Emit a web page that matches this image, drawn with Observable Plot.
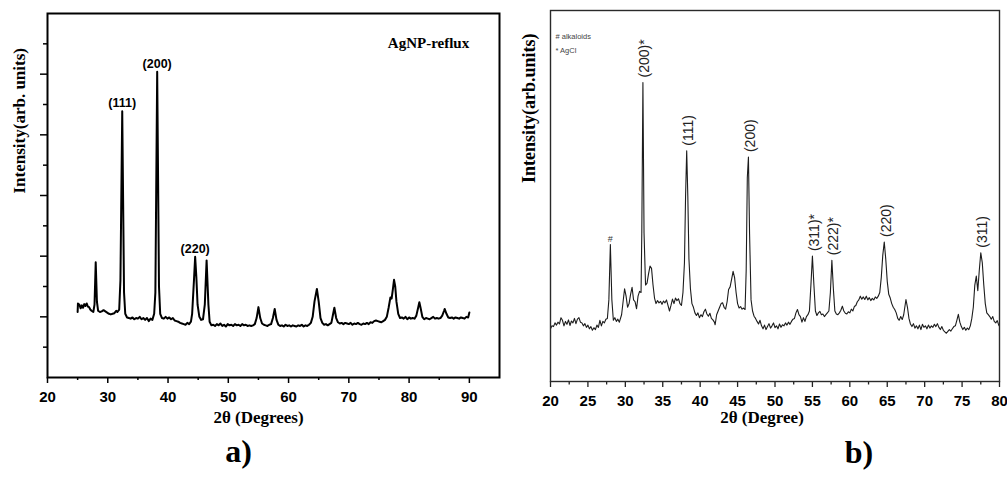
<!DOCTYPE html>
<html>
<head>
<meta charset="utf-8">
<script src="https://cdn.jsdelivr.net/npm/d3@7"></script>
<script src="https://cdn.jsdelivr.net/npm/@observablehq/plot@0.6"></script>
<style>
  html, body { margin: 0; padding: 0; background: #fff; }
  #fig { display: flex; width: 1007px; height: 477px; overflow: hidden; }
  #fig svg { display: block; flex: none; }
</style>
</head>
<body>
<div id="fig"></div>
<script>
// ---- a) AgNP-reflux diffractogram: [2θ, intensity] ----
const aScan = [
  [25.0,1.08],[25.05,1.22],[25.3,1.20],[25.5,1.14],[25.7,1.19],[25.9,1.15],[26.1,1.21],[26.3,1.18],
  [26.5,1.22],[26.7,1.17],[26.9,1.16],[27.1,1.12],[27.3,1.10],[27.6,1.08],[27.8,1.20],[28.0,1.90],
  [28.2,1.25],[28.4,1.10],[28.7,1.08],[29.0,1.09],[29.3,1.11],[29.6,1.09],[29.9,1.07],[30.2,1.05],
  [30.5,1.04],[30.8,1.05],[31.1,1.06],[31.4,1.10],[31.6,1.08],[31.9,1.12],[32.1,1.60],[32.4,4.39],
  [32.7,1.40],[32.9,1.05],[33.2,0.99],[33.5,0.98],[33.8,0.97],[34.1,0.99],[34.4,0.96],[34.7,0.98],
  [35.0,0.97],[35.3,1.00],[35.6,0.96],[35.9,0.98],[36.2,0.95],[36.5,0.98],[36.8,0.93],[37.1,0.97],
  [37.4,0.95],[37.7,1.05],[37.9,1.40],[38.2,5.04],[38.5,1.50],[38.7,1.05],[39.0,0.98],[39.3,0.97],
  [39.6,1.00],[39.9,0.97],[40.2,0.99],[40.5,0.96],[40.8,0.98],[41.1,0.94],[41.4,0.93],[41.7,0.92],
  [42.0,0.90],[42.3,0.89],[42.6,0.88],[42.9,0.87],[43.2,0.90],[43.5,0.88],[43.8,0.92],[44.0,1.05],
  [44.3,1.60],[44.5,1.99],[44.7,1.65],[44.9,1.20],[45.2,1.00],[45.5,0.95],[45.8,0.96],[46.1,1.20],
  [46.4,1.93],[46.7,1.20],[46.9,0.92],[47.2,0.86],[47.5,0.87],[47.8,0.85],[48.1,0.88],[48.4,0.86],
  [48.7,0.89],[49.0,0.85],[49.3,0.87],[49.6,0.84],[49.9,0.88],[50.2,0.86],[50.5,0.87],[50.8,0.85],
  [51.1,0.88],[51.4,0.86],[51.7,0.87],[52.0,0.85],[52.3,0.88],[52.6,0.86],[52.9,0.87],[53.2,0.85],
  [53.5,0.86],[53.8,0.85],[54.1,0.86],[54.4,0.88],[54.7,0.98],[55.0,1.16],[55.3,0.98],[55.6,0.89],
  [55.9,0.87],[56.2,0.86],[56.5,0.85],[56.8,0.87],[57.1,0.88],[57.4,0.98],[57.7,1.13],[58.0,0.95],
  [58.3,0.87],[58.6,0.85],[58.9,0.86],[59.2,0.84],[59.5,0.87],[59.8,0.85],[60.1,0.86],[60.4,0.84],
  [60.7,0.86],[61.0,0.85],[61.3,0.84],[61.6,0.86],[61.9,0.85],[62.2,0.87],[62.5,0.84],[62.8,0.86],
  [63.1,0.85],[63.4,0.87],[63.7,0.90],[64.0,1.00],[64.3,1.25],[64.7,1.46],[65.0,1.25],[65.3,0.98],
  [65.6,0.90],[65.9,0.87],[66.2,0.88],[66.5,0.86],[66.8,0.88],[67.1,0.90],[67.4,1.05],[67.6,1.15],
  [67.9,0.98],[68.2,0.91],[68.5,0.89],[68.8,0.90],[69.1,0.88],[69.4,0.90],[69.7,0.89],[70.0,0.88],
  [70.3,0.90],[70.6,0.87],[70.9,0.89],[71.2,0.88],[71.5,0.90],[71.8,0.88],[72.1,0.87],[72.4,0.89],
  [72.7,0.88],[73.0,0.90],[73.3,0.88],[73.6,0.91],[73.9,0.90],[74.2,0.93],[74.5,0.94],[74.8,0.93],
  [75.1,0.92],[75.4,0.91],[75.7,0.93],[76.0,0.95],[76.3,1.00],[76.6,1.15],[76.9,1.32],[77.1,1.30],
  [77.3,1.45],[77.5,1.61],[77.7,1.50],[77.9,1.25],[78.2,1.05],[78.5,0.98],[78.8,0.99],[79.1,0.97],
  [79.4,1.00],[79.7,0.96],[80.0,0.99],[80.3,0.97],[80.6,0.98],[80.9,0.97],[81.2,1.02],[81.5,1.15],
  [81.7,1.24],[81.9,1.15],[82.2,1.00],[82.5,0.96],[82.8,0.98],[83.1,0.97],[83.4,0.96],[83.7,0.98],
  [84.0,1.00],[84.3,0.97],[84.6,0.98],[84.9,0.97],[85.2,0.98],[85.5,1.02],[85.8,1.10],[85.9,1.13],
  [86.2,1.05],[86.5,0.99],[86.8,0.98],[87.1,0.99],[87.4,0.97],[87.7,0.99],[88.0,0.98],[88.3,0.97],
  [88.6,0.99],[88.9,0.98],[89.2,0.97],[89.5,1.00],[89.8,0.99],[90.0,1.07]
];
const aPeakTheta = [32.4, 38.2, 44.5];
const aPeakLabel = ["(111)", "(200)", "(220)"];
const aMajorTicks = [20, 30, 40, 50, 60, 70, 80, 90];
const aMinorTicks = [25, 35, 45, 55, 65, 75, 85];
const aYMajor = [1, 2, 3, 4, 5];
const aYMinor = [0.5, 1.5, 2.5, 3.5, 4.5, 5.5];

// ---- b) diffractogram with alkaloid and AgCl reflections: [2θ, intensity] ----
const bScan = [
  [20.0,14.2],[20.2,15.0],[20.4,14.8],[20.6,15.8],[20.8,15.2],[21.0,16.0],[21.2,15.5],[21.4,17.2],
  [21.6,16.5],[21.8,15.0],[22.0,16.2],[22.2,15.4],[22.4,16.6],[22.6,15.1],[22.8,16.3],[23.0,15.8],
  [23.2,17.0],[23.4,15.6],[23.6,16.8],[23.8,17.2],[24.0,16.0],[24.2,15.8],[24.4,15.0],[24.6,15.6],
  [24.8,14.6],[25.0,15.2],[25.2,14.2],[25.4,14.8],[25.6,13.8],[25.8,14.5],[26.0,14.0],[26.2,15.2],
  [26.4,14.6],[26.6,16.5],[26.8,15.0],[27.0,16.2],[27.2,15.8],[27.4,16.8],[27.6,17.0],[27.8,22.0],
  [28.0,36.9],[28.2,22.0],[28.4,16.5],[28.6,17.2],[28.8,16.2],[29.0,16.8],[29.2,16.0],[29.5,18.0],
  [29.7,21.5],[29.9,25.0],[30.1,23.0],[30.3,20.0],[30.5,21.0],[30.7,23.5],[30.9,25.4],[31.1,22.0],
  [31.3,21.5],[31.5,19.6],[31.7,23.0],[31.9,24.3],[32.1,24.0],[32.2,40.0],[32.35,80.6],[32.5,40.0],
  [32.7,26.0],[32.9,26.5],[33.1,29.0],[33.3,31.1],[33.5,30.5],[33.7,26.0],[33.9,22.5],[34.1,21.0],
  [34.3,21.8],[34.5,21.2],[34.7,21.6],[34.9,20.8],[35.1,21.7],[35.3,21.2],[35.5,22.0],[35.7,20.5],
  [35.9,19.0],[36.1,20.5],[36.3,22.2],[36.5,21.0],[36.7,22.5],[36.9,21.8],[37.1,22.3],[37.3,21.0],
  [37.5,20.5],[37.7,24.0],[37.9,32.0],[38.05,50.0],[38.2,62.2],[38.35,50.0],[38.5,33.0],[38.7,25.0],
  [38.9,21.0],[39.1,20.0],[39.3,18.5],[39.5,17.8],[39.7,18.5],[39.9,17.2],[40.1,18.0],[40.3,17.5],
  [40.5,18.8],[40.7,19.5],[40.9,18.2],[41.1,17.6],[41.3,18.4],[41.5,17.0],[41.7,16.6],[41.9,16.0],
  [42.0,15.3],[42.2,18.0],[42.4,19.0],[42.6,20.0],[42.8,21.0],[43.0,21.2],[43.2,20.0],[43.4,19.5],
  [43.6,21.5],[43.8,24.8],[44.0,25.5],[44.2,27.5],[44.4,29.7],[44.6,28.0],[44.8,24.0],[45.0,21.0],
  [45.2,19.8],[45.4,20.2],[45.6,19.5],[45.8,19.8],[46.0,19.4],[46.15,30.0],[46.3,55.0],[46.45,60.5],
  [46.6,40.0],[46.8,22.0],[47.0,19.0],[47.2,17.6],[47.4,17.0],[47.6,16.2],[47.8,15.5],[48.0,16.5],
  [48.2,15.0],[48.4,14.2],[48.6,15.2],[48.8,14.0],[49.0,14.8],[49.2,15.6],[49.4,14.4],[49.6,15.0],
  [49.8,15.8],[50.0,14.5],[50.2,15.0],[50.4,14.2],[50.6,15.5],[50.8,14.6],[51.0,15.3],[51.2,15.0],
  [51.4,15.8],[51.6,15.2],[51.8,16.0],[52.0,15.4],[52.2,16.2],[52.4,16.8],[52.6,17.0],[52.8,18.5],
  [53.0,19.4],[53.2,18.0],[53.4,17.5],[53.6,16.0],[53.8,17.2],[54.0,16.2],[54.2,17.5],[54.4,18.0],
  [54.6,19.0],[54.8,26.0],[55.0,33.8],[55.2,26.0],[55.4,19.0],[55.6,17.8],[55.8,18.5],[56.0,18.9],
  [56.2,18.0],[56.4,18.2],[56.6,17.5],[56.8,18.0],[57.0,18.5],[57.2,19.0],[57.4,24.0],[57.6,32.7],
  [57.8,25.0],[58.0,19.0],[58.2,18.2],[58.4,18.0],[58.6,18.5],[58.8,19.2],[59.0,20.3],[59.2,19.0],
  [59.4,18.4],[59.6,18.2],[59.8,18.8],[60.0,18.5],[60.2,19.5],[60.4,19.0],[60.6,20.2],[60.8,20.5],
  [61.0,21.5],[61.2,22.0],[61.4,23.0],[61.6,22.2],[61.8,22.8],[62.0,22.1],[62.2,23.0],[62.4,22.0],
  [62.6,22.6],[62.8,21.8],[63.0,22.4],[63.2,22.0],[63.4,22.8],[63.6,22.4],[63.8,23.0],[64.0,24.0],
  [64.2,28.0],[64.4,34.0],[64.6,37.6],[64.8,33.0],[65.0,27.0],[65.2,23.5],[65.4,22.5],[65.6,21.0],
  [65.8,20.0],[66.0,19.4],[66.2,18.5],[66.4,17.0],[66.6,16.5],[66.8,17.5],[67.0,16.7],[67.2,18.0],
  [67.5,22.1],[67.7,20.0],[67.9,17.0],[68.1,15.5],[68.3,14.8],[68.5,15.6],[68.7,14.4],[68.9,15.0],
  [69.1,14.2],[69.3,15.2],[69.5,14.0],[69.7,15.4],[69.9,14.6],[70.1,15.0],[70.3,14.2],[70.5,15.2],
  [70.7,14.4],[70.9,15.0],[71.1,14.6],[71.3,15.4],[71.5,14.8],[71.7,15.6],[71.9,14.6],[72.1,14.0],
  [72.3,14.8],[72.5,13.8],[72.7,13.4],[72.9,13.0],[73.1,13.5],[73.3,14.0],[73.5,13.6],[73.7,14.2],
  [73.9,14.8],[74.1,15.0],[74.3,16.5],[74.5,18.1],[74.7,16.0],[74.9,14.8],[75.1,14.0],[75.3,14.6],
  [75.5,13.8],[75.7,14.4],[75.9,14.0],[76.1,15.0],[76.3,17.0],[76.5,20.0],[76.7,26.0],[76.9,28.4],
  [77.1,24.5],[77.3,30.0],[77.5,34.7],[77.7,32.0],[77.9,26.0],[78.1,21.0],[78.3,18.5],[78.5,18.0],
  [78.7,17.5],[78.9,16.8],[79.1,17.5],[79.3,16.2],[79.5,15.8],[79.7,16.4],[79.9,15.2],[80.0,14.9]
];
const bPeakTheta = [32.35, 38.2, 46.45, 55.0, 57.6, 64.6, 77.5];
const bPeakLabel = ["(200)*", "(111)", "(200)", "(311)*", "(222)*", "(220)", "(311)"];
const bAlkaloidTheta = [28.0];
const bLegendAlkaloids = "# alkaloids";
const bLegendAgCl = "* AgCl";
const bMajorTicks = [20, 25, 30, 35, 40, 45, 50, 55, 60, 65, 70, 75, 80];
const bMinorTicks = [22.5, 27.5, 32.5, 37.5, 42.5, 47.5, 52.5, 57.5, 62.5, 67.5, 72.5, 77.5];

const serif = "'Liberation Serif', 'Times New Roman', serif";
const sans = "'Liberation Sans', Arial, sans-serif";

// highest recorded intensity near a reflection
function peakAt(scan, theta) {
  return d3.max(scan.filter(d => Math.abs(d[0] - theta) <= 0.3), d => d[1]);
}
const aPeaks = aPeakTheta.map((t, i) => ({theta: t, value: peakAt(aScan, t), label: aPeakLabel[i]}));
const bPeaks = bPeakTheta.map((t, i) => ({theta: t, value: peakAt(bScan, t), label: bPeakLabel[i]}));
const bAlk = bAlkaloidTheta.map(t => ({theta: t, value: peakAt(bScan, t), label: "#"}));

const one = [0];

const plotA = Plot.plot({
  width: 503, height: 477,
  marginLeft: 47, marginRight: 4, marginTop: 13, marginBottom: 100,
  x: {domain: [20, 95], axis: null},
  y: {domain: [0, 6], axis: null},
  style: {fontFamily: sans, background: "white", overflow: "visible"},
  marks: [
    Plot.axisX({ticks: aMajorTicks, tickSize: 6, tickPadding: 8, fontSize: 15, fontWeight: "bold",
                fill: "black", stroke: "black", strokeWidth: 1.5, label: null}),
    Plot.axisX({ticks: aMinorTicks, tickSize: 3, tickFormat: () => "", stroke: "black", strokeWidth: 1.5, label: null}),
    Plot.axisY({ticks: aYMajor, tickSize: 7, tickFormat: () => "", stroke: "black", strokeWidth: 1.5, label: null}),
    Plot.axisY({ticks: aYMinor, tickSize: 4, tickFormat: () => "", stroke: "black", strokeWidth: 1.5, label: null}),
    Plot.line(aScan, {x: d => d[0], y: d => d[1], stroke: "black", strokeWidth: 2, strokeLinejoin: "round"}),
    Plot.frame({stroke: "black", strokeWidth: 2}),
    Plot.text(aPeaks, {x: "theta", y: "value", text: "label", lineAnchor: "bottom", dy: -4,
                       fontSize: 12.5, fontWeight: "bold", fontFamily: sans, fill: "black"}),
    Plot.text(one, {frameAnchor: "top-left", text: () => "AgNP-reflux", textAnchor: "middle", dx: 381, dy: 24,
                    fontSize: 15, fontWeight: "bold", fontFamily: serif, fill: "black"}),
    Plot.text(one, {frameAnchor: "left", text: () => "Intensity(arb. units)", rotate: -90, dx: -28, dy: -2,
                    fontSize: 17, fontWeight: "bold", fontFamily: serif, fill: "black"}),
    Plot.text(one, {frameAnchor: "bottom", text: () => "2θ (Degrees)", dx: -15, dy: 45,
                    fontSize: 17, fontWeight: "bold", fontFamily: serif, fill: "black"}),
    Plot.text(one, {frameAnchor: "bottom", text: () => "a)", dx: -35, dy: 84,
                    fontSize: 32, fontWeight: "bold", fontFamily: serif, fill: "black"})
  ]
});

const plotB = Plot.plot({
  width: 504, height: 477,
  marginLeft: 47, marginRight: 8, marginTop: 10, marginBottom: 96,
  x: {domain: [20, 80], axis: null},
  y: {domain: [0, 100], axis: null},
  style: {fontFamily: sans, background: "white", overflow: "visible"},
  marks: [
    Plot.axisX({ticks: bMajorTicks, tickSize: 6, tickPadding: 8, fontSize: 15, fontWeight: "bold",
                fill: "black", stroke: "#222", strokeWidth: 1.3, label: null}),
    Plot.axisX({ticks: bMinorTicks, tickSize: 3.5, tickFormat: () => "", stroke: "#222", strokeWidth: 1.3, label: null}),
    Plot.line(bScan, {x: d => d[0], y: d => d[1], stroke: "#1c1c1c", strokeWidth: 1.1, strokeLinejoin: "round"}),
    Plot.frame({stroke: "#2a2a2a", strokeWidth: 1.4}),
    Plot.text(bPeaks, {x: "theta", y: "value", text: "label", rotate: -90, textAnchor: "start",
                       dx: 2, dy: -5, fontSize: 14, fontFamily: sans, fill: "#222"}),
    Plot.text(bAlk, {x: "theta", y: "value", text: "label", lineAnchor: "bottom", dy: -3,
                     fontSize: 9, fontFamily: sans, fill: "#333"}),
    Plot.text(one, {frameAnchor: "top-left", text: () => bLegendAlkaloids, textAnchor: "start", dx: 5, dy: 23,
                    fontSize: 7.5, fontFamily: sans, fill: "#444"}),
    Plot.text(one, {frameAnchor: "top-left", text: () => bLegendAgCl, textAnchor: "start", dx: 5, dy: 37,
                    fontSize: 7.5, fontFamily: sans, fill: "#444"}),
    Plot.text(one, {frameAnchor: "left", text: () => "Intensity(arb.units)", rotate: -90, dx: -21, dy: -13,
                    fontSize: 18, fontWeight: "bold", fontFamily: serif, fill: "black"}),
    Plot.text(one, {frameAnchor: "bottom", text: () => "2θ (Degree)", dx: -13, dy: 41,
                    fontSize: 17, fontWeight: "bold", fontFamily: serif, fill: "black"}),
    Plot.text(one, {frameAnchor: "bottom", text: () => "b)", dx: 84, dy: 81,
                    fontSize: 32, fontWeight: "bold", fontFamily: serif, fill: "black"})
  ]
});

document.getElementById("fig").append(plotA, plotB);
</script>
</body>
</html>
